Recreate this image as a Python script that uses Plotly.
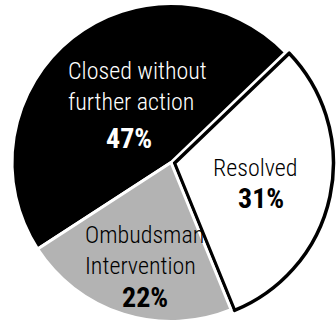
import plotly.graph_objects as go

# Outcome shares of closed complaints (percent)
labels = ["Closed without further action", "Resolved", "Ombudsman Intervention"]
values = [47, 31, 22]
slice_colors = ["#000000", "#ffffff", "#b3b3b3"]
edge_colors = ["#ffffff", "#000000", "#ffffff"]
edge_widths = [3, 3.5, 3]
pulls = [0, 0.022, 0]

# Label text lines for each slice
name_lines = {
    "Closed without further action": "Closed without<br>further action",
    "Resolved": "Resolved",
    "Ombudsman Intervention": "Ombudsman<br>Intervention",
}
text_colors = ["#ffffff", "#000000", "#000000"]

FONT = "Roboto Condensed, DejaVu Sans Condensed, sans-serif"

fig = go.Figure(
    go.Pie(
        labels=labels,
        values=values,
        sort=False,
        direction="clockwise",
        rotation=237,
        pull=pulls,
        marker=dict(colors=slice_colors, line=dict(color=edge_colors, width=edge_widths)),
        textinfo="none",
        hoverinfo="label+percent",
        showlegend=False,
        domain=dict(x=[0.018, 1], y=[0, 1]),
    )
)

total = sum(values)
pct = {lab: f"{round(100 * v / total)}%" for lab, v in zip(labels, values)}

# (name x, name y, name anchor, percent x, percent y) in paper units
label_places = {
    "Closed without further action": (0.196, 0.735, "left", 0.384, 0.574),
    "Resolved": (0.759, 0.482, "center", 0.777, 0.388),
    "Ombudsman Intervention": (0.247, 0.229, "left", 0.432, 0.086),
}

annotations = []
for lab, col in zip(labels, text_colors):
    nx, ny, anchor, px, py = label_places[lab]
    annotations.append(dict(
        x=nx, y=ny, xref="paper", yref="paper", xanchor=anchor, yanchor="middle",
        align="left", text=name_lines[lab], showarrow=False,
        font=dict(family=FONT, size=24, color=col, weight=300),
    ))
    annotations.append(dict(
        x=px, y=py, xref="paper", yref="paper", xanchor="center", yanchor="middle",
        text=pct[lab], showarrow=False,
        font=dict(family=FONT, size=28, color=col, weight=700),
    ))

fig.update_layout(
    width=336,
    height=325,
    margin=dict(l=0, r=0, t=0, b=0),
    paper_bgcolor="#ffffff",
    plot_bgcolor="#ffffff",
    annotations=annotations,
)

fig.write_html("out.html")
